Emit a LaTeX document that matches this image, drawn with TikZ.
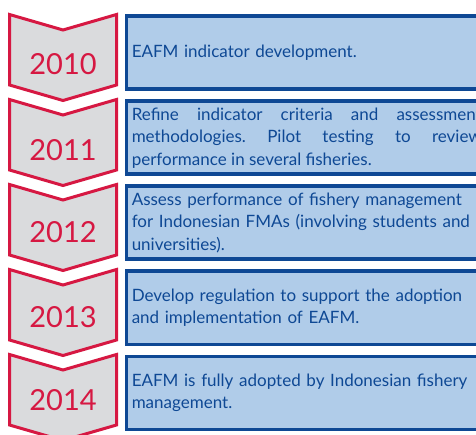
\documentclass[tikz,border=0pt]{standalone}
\usepackage{fontspec}
\setmainfont{Lato}
\frenchspacing
\begin{document}
\begin{tikzpicture}[x=1pt,y=-1pt]

% Colours
\definecolor{yearred}{RGB}{214,24,66}
\definecolor{chevgray}{RGB}{218,219,221}
\definecolor{boxblue}{RGB}{14,72,148}
\definecolor{boxfill}{RGB}{176,204,233}

\tikzset{
  chevron/.style={draw=yearred, fill=chevgray, line width=3pt, line join=miter},
  yearlabel/.style={text=yearred, font=\fontsize{29}{30}\selectfont, inner sep=0pt},
  stepbox/.style={draw=boxblue, fill=boxfill, line width=3.5pt, anchor=north west,
    minimum height=73pt, text width=350pt, inner xsep=5.25pt, inner ysep=0pt,
    text=boxblue, font=\fontsize{17}{22.5}\selectfont}
}

\useasboundingbox (0,0) rectangle (476,435);
\clip (0,0) rectangle (476,435);

% Chevrons with the years
\foreach \yr/\ty/\dy in {2010/13/51,2011/98/52,2012/183/49,2013/268/49,2014/353/47} {
  \draw[chevron] (9.5,\ty+1.5) -- (63,\ty+17) -- (116.5,\ty+1.5) -- (116.5,\ty+72)
    -- (63,\ty+87.5) -- (9.5,\ty+72) -- cycle;
  \node[yearlabel] (y\yr) at (63,\ty+\dy) {\yr};
}

% Text boxes
\node[stepbox, align=left] (b2010) at (124.75,14.5) {EAFM indicator development.};
\node[stepbox, align=justify] (b2011) at (124.75,99.5)
  {Refine indicator criteria and assessment\linebreak methodologies. Pilot testing to review\linebreak performance in several fisheries.};
\node[stepbox, align=left] (b2012) at (124.75,184.5)
  {Assess performance of fishery management\\ for Indonesian FMAs (involving students and\\ universities).};
\node[stepbox, align=left] (b2013) at (124.75,269.5)
  {Develop regulation to support the adoption\\ and implementation of EAFM.};
\node[stepbox, align=left] (b2014) at (124.75,354.5)
  {EAFM is fully adopted by Indonesian fishery\\ management.};

\end{tikzpicture}
\end{document}
